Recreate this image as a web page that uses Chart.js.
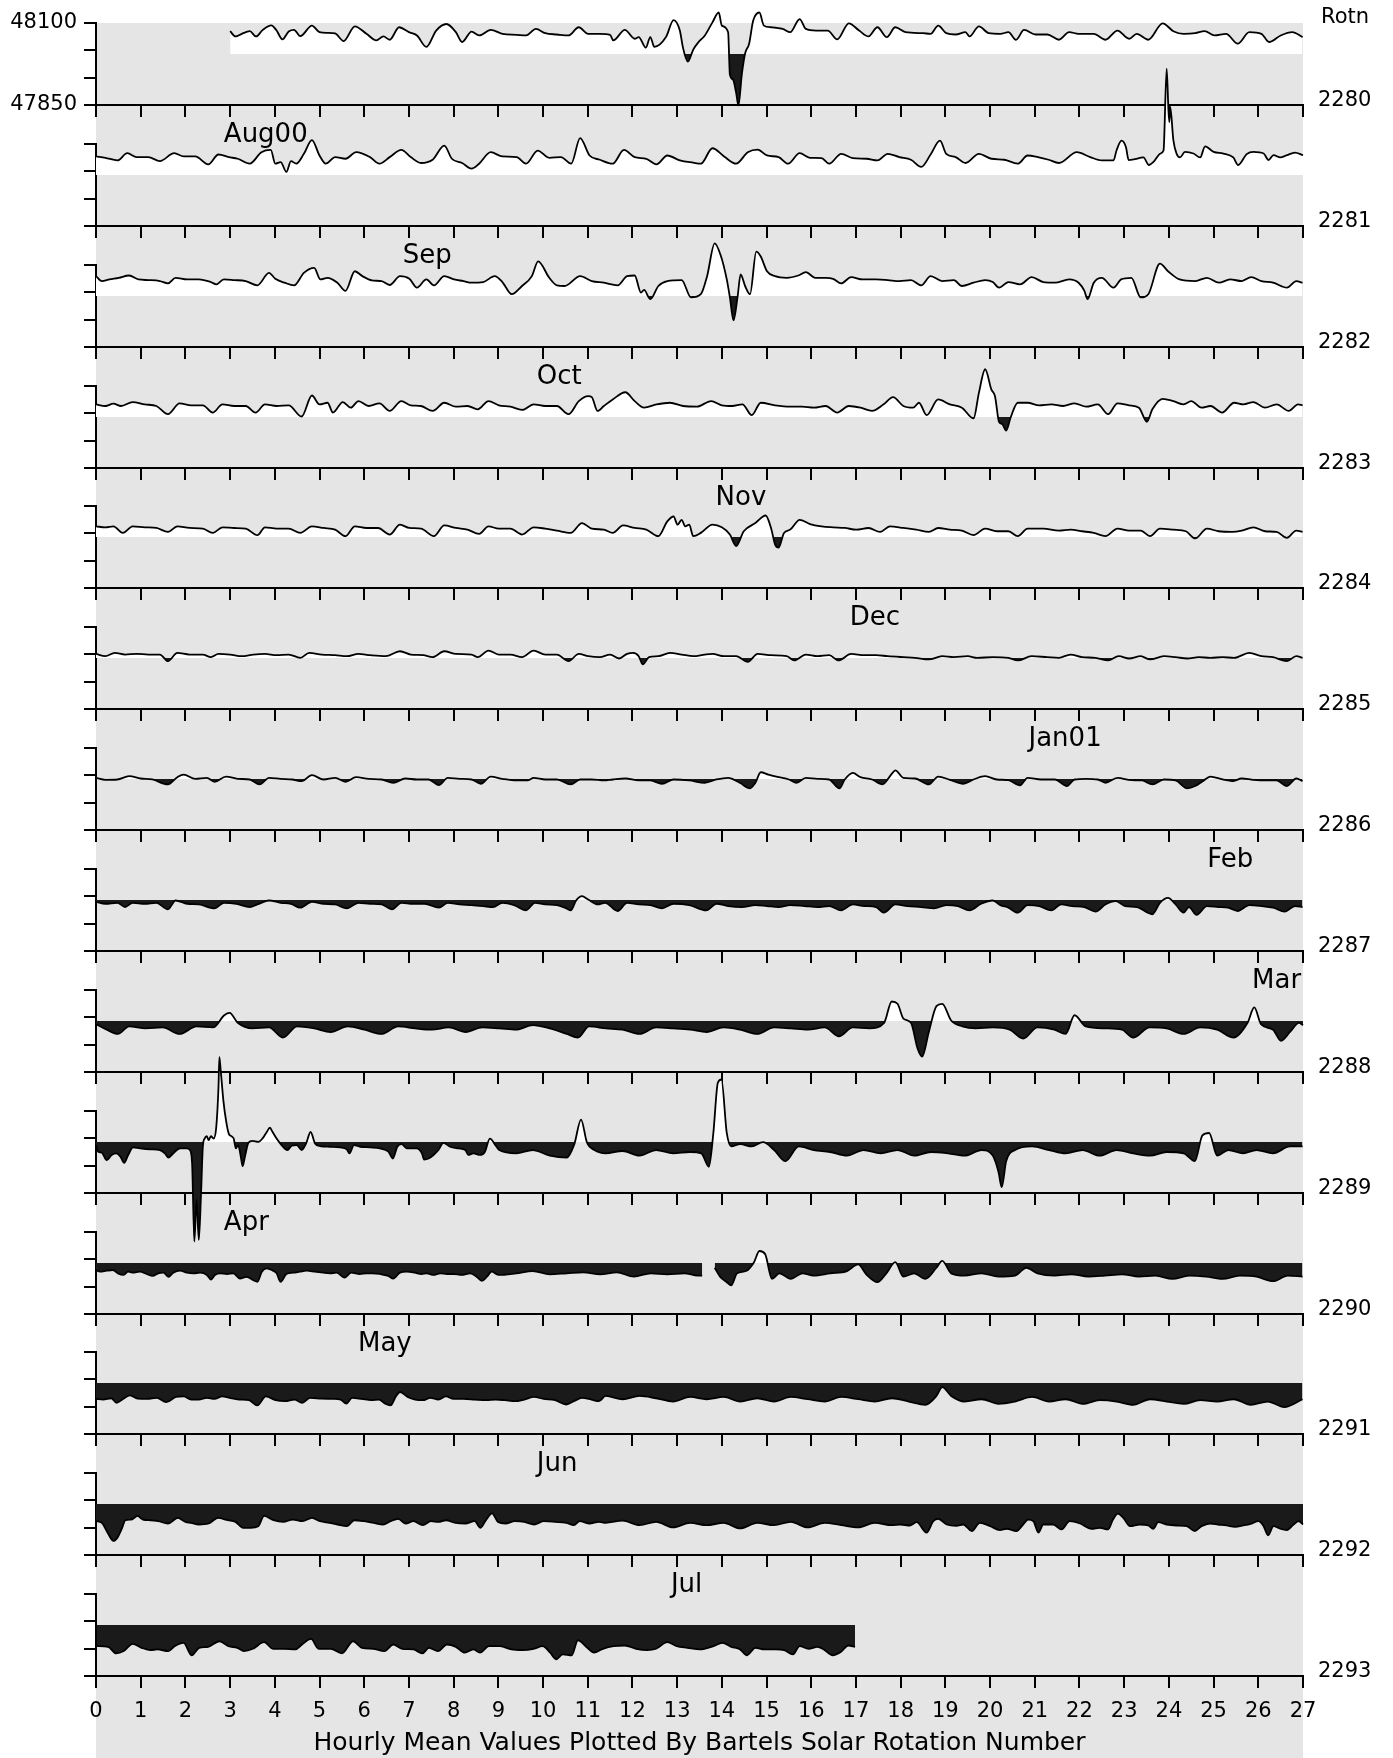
<!DOCTYPE html>
<html><head><meta charset="utf-8">
<script src="https://cdn.jsdelivr.net/npm/chart.js@4/dist/chart.umd.min.js"></script>
<style>
html,body{margin:0;padding:0;background:#fff;}
#page{position:relative;width:1393px;height:1758px;overflow:hidden;background:#fff;}
#bg{position:absolute;left:96px;top:23px;width:1207px;height:1735px;background:#e5e5e5;}
</style></head>
<body><div id="page"><div id="bg"></div></div>
<script>
// ---------------- DATA ----------------
const rotations = [2280,2281,2282,2283,2284,2285,2286,2287,2288,2289,2290,2291,2292,2293];
const monthNames = ['Aug00','Sep','Oct','Nov','Dec','Jan01','Feb','Mar','','Apr','May','Jun','Jul',''];
const monthDays  = [2.86,6.86,9.86,13.86,16.86,20.86,24.86,25.86,null,2.86,5.86,9.86,12.86,null];
const xTickValues = [0,1,2,3,4,5,6,7,8,9,10,11,12,13,14,15,16,17,18,19,20,21,22,23,24,25,26,27];
const yTickValues = [47850,47933.33,48016.67,48100];
const yTickLabels = ['47850','','','48100'];
const BASELINE = 48005.5;
const xTitle = 'Hourly Mean Values Plotted By Bartels Solar Rotation Number';

const r2280 = [[3.00,48075],[3.12,48059],[3.26,48067],[3.44,48075],[3.58,48059],[3.73,48079],[3.92,48093],[4.04,48077],[4.17,48050],[4.31,48074],[4.43,48079],[4.57,48060],[4.83,48092],[5.00,48072],[5.18,48070],[5.35,48068],[5.54,48045],[5.79,48090],[6.05,48067],[6.27,48047],[6.43,48059],[6.57,48049],[6.78,48087],[7.00,48072],[7.18,48062],[7.39,48027],[7.61,48077],[7.84,48097],[8.05,48072],[8.19,48042],[8.40,48074],[8.57,48062],[8.83,48079],[9.09,48067],[9.41,48064],[9.62,48062],[9.84,48082],[10.05,48069],[10.31,48065],[10.57,48062],[10.80,48087],[11.01,48067],[11.27,48067],[11.50,48064],[11.57,48047],[11.83,48079],[12.05,48052],[12.14,48057],[12.30,48025],[12.40,48057],[12.49,48027],[12.75,48057],[12.92,48109],[13.06,48077],[13.13,48025],[13.24,47982],[13.36,48019],[13.48,48042],[13.62,48062],[13.79,48102],[13.93,48132],[14.00,48092],[14.14,48072],[14.18,47942],[14.25,47927],[14.32,47887],[14.37,47849],[14.45,47947],[14.52,48007],[14.61,48037],[14.70,48107],[14.84,48132],[14.94,48092],[15.10,48087],[15.36,48082],[15.53,48072],[15.74,48112],[15.88,48082],[16.11,48077],[16.37,48077],[16.58,48050],[16.84,48099],[17.07,48077],[17.28,48059],[17.48,48087],[17.69,48057],[17.88,48087],[18.11,48072],[18.50,48069],[18.67,48067],[18.84,48092],[19.02,48069],[19.23,48065],[19.45,48072],[19.54,48059],[19.75,48090],[19.97,48069],[20.23,48067],[20.41,48072],[20.58,48049],[20.76,48079],[21.02,48065],[21.28,48065],[21.54,48049],[21.77,48072],[21.98,48067],[22.32,48067],[22.58,48049],[22.85,48077],[23.11,48052],[23.28,48067],[23.54,48049],[23.86,48099],[24.10,48075],[24.33,48067],[24.59,48069],[24.80,48075],[25.02,48062],[25.28,48067],[25.54,48037],[25.80,48072],[26.07,48067],[26.24,48042],[26.50,48062],[26.76,48072],[26.99,48057]];

const r2281 = [[0.00,48062],[0.21,48058],[0.48,48050],[0.70,48072],[0.91,48060],[1.17,48060],[1.43,48048],[1.75,48072],[1.96,48062],[2.22,48062],[2.51,48038],[2.74,48068],[2.97,48060],[3.17,48055],[3.44,48040],[3.70,48075],[3.91,48082],[4.01,48040],[4.13,48045],[4.26,48015],[4.36,48048],[4.48,48040],[4.65,48070],[4.83,48112],[5.00,48065],[5.14,48040],[5.35,48060],[5.58,48055],[5.82,48075],[6.13,48060],[6.34,48040],[6.57,48060],[6.83,48082],[7.04,48060],[7.27,48042],[7.53,48052],[7.79,48095],[7.96,48055],[8.19,48042],[8.40,48025],[8.57,48040],[8.83,48075],[9.09,48062],[9.41,48060],[9.62,48040],[9.88,48080],[10.14,48058],[10.40,48060],[10.63,48040],[10.83,48118],[11.04,48065],[11.27,48052],[11.56,48040],[11.81,48082],[12.05,48060],[12.31,48055],[12.54,48038],[12.78,48065],[13.06,48050],[13.36,48043],[13.53,48040],[13.79,48087],[14.05,48062],[14.32,48040],[14.58,48075],[14.80,48083],[15.01,48065],[15.27,48060],[15.48,48040],[15.74,48072],[15.97,48058],[16.23,48057],[16.40,48040],[16.67,48070],[16.93,48057],[17.24,48055],[17.48,48050],[17.71,48070],[17.97,48060],[18.23,48052],[18.46,48030],[18.67,48068],[18.88,48110],[19.02,48070],[19.23,48060],[19.45,48042],[19.75,48070],[20.03,48055],[20.32,48052],[20.62,48040],[20.84,48065],[21.07,48060],[21.31,48052],[21.54,48042],[21.94,48075],[22.24,48060],[22.50,48050],[22.76,48050],[22.83,48081],[22.94,48110],[23.04,48090],[23.10,48051],[23.21,48053],[23.43,48059],[23.55,48036],[23.66,48046],[23.81,48071],[23.88,48080],[23.95,48330],[23.99,48203],[24.01,48167],[24.03,48213],[24.10,48112],[24.17,48071],[24.25,48059],[24.36,48076],[24.55,48071],[24.70,48059],[24.81,48093],[25.00,48076],[25.22,48071],[25.44,48059],[25.55,48036],[25.74,48069],[25.89,48076],[26.12,48071],[26.23,48051],[26.34,48066],[26.49,48059],[26.64,48066],[26.82,48074],[27.00,48066]];

const r2282 = [[0.00,48066],[0.13,48051],[0.30,48056],[0.51,48061],[0.74,48068],[0.95,48056],[1.17,48054],[1.43,48051],[1.61,48044],[1.78,48061],[2.04,48056],[2.30,48056],[2.57,48048],[2.69,48041],[2.86,48056],[3.09,48054],[3.35,48051],[3.61,48038],[3.87,48076],[4.01,48058],[4.22,48046],[4.43,48038],[4.65,48076],[4.88,48091],[5.02,48056],[5.18,48061],[5.40,48046],[5.58,48021],[5.79,48081],[5.96,48066],[6.17,48053],[6.39,48051],[6.57,48039],[6.80,48066],[7.01,48058],[7.18,48031],[7.39,48056],[7.56,48038],[7.79,48066],[8.01,48056],[8.22,48051],[8.40,48046],[8.66,48048],[8.92,48066],[9.09,48048],[9.30,48011],[9.53,48036],[9.75,48066],[9.89,48111],[10.14,48061],[10.31,48038],[10.48,48036],[10.83,48066],[11.09,48051],[11.36,48046],[11.67,48038],[11.88,48066],[12.05,48068],[12.19,48016],[12.26,48024],[12.40,47996],[12.58,48036],[12.78,48051],[13.10,48054],[13.31,48001],[13.53,48011],[13.67,48066],[13.84,48166],[13.97,48131],[14.11,48056],[14.18,48001],[14.26,47931],[14.35,48001],[14.42,48071],[14.52,48036],[14.63,48011],[14.77,48141],[14.87,48126],[15.01,48081],[15.19,48066],[15.45,48061],[15.71,48068],[15.88,48078],[16.09,48061],[16.32,48061],[16.49,48058],[16.67,48044],[16.89,48063],[17.15,48056],[17.45,48056],[17.71,48054],[17.97,48051],[18.23,48054],[18.46,48038],[18.67,48066],[18.93,48051],[19.19,48054],[19.37,48036],[19.63,48046],[19.89,48054],[20.06,48048],[20.20,48031],[20.41,48048],[20.67,48041],[20.93,48063],[21.19,48048],[21.45,48046],[21.77,48056],[21.98,48046],[22.11,48021],[22.18,47996],[22.32,48046],[22.50,48061],[22.76,48031],[22.93,48056],[23.16,48061],[23.37,48001],[23.54,48011],[23.80,48104],[23.98,48081],[24.24,48056],[24.59,48051],[24.85,48061],[25.12,48046],[25.37,48056],[25.63,48051],[25.84,48063],[26.07,48051],[26.33,48046],[26.64,48031],[26.85,48051],[26.99,48046]];

const r2283 = [[0.00,48044],[0.21,48039],[0.39,48046],[0.56,48039],[0.82,48051],[1.09,48044],[1.35,48039],[1.61,48014],[1.87,48047],[2.13,48041],[2.39,48041],[2.61,48019],[2.83,48044],[3.09,48039],[3.35,48039],[3.57,48019],[3.78,48044],[4.04,48039],[4.31,48041],[4.60,48007],[4.83,48071],[5.00,48044],[5.18,48049],[5.30,48019],[5.52,48051],[5.70,48034],[5.87,48054],[6.10,48039],[6.34,48047],[6.57,48024],[6.83,48054],[7.04,48041],[7.27,48039],[7.53,48024],[7.79,48049],[8.05,48037],[8.31,48039],[8.54,48029],[8.78,48054],[9.01,48041],[9.27,48037],[9.53,48027],[9.79,48044],[10.05,48039],[10.31,48039],[10.57,48014],[10.80,48054],[11.01,48069],[11.09,48066],[11.22,48024],[11.36,48039],[11.56,48059],[11.84,48081],[12.05,48054],[12.26,48034],[12.54,48044],[12.84,48049],[13.13,48039],[13.44,48037],[13.76,48054],[14.00,48041],[14.23,48039],[14.46,48044],[14.67,48011],[14.87,48049],[15.19,48041],[15.53,48037],[15.79,48037],[16.06,48034],[16.32,48039],[16.58,48019],[16.84,48039],[17.10,48034],[17.36,48024],[17.62,48044],[17.83,48066],[18.06,48039],[18.28,48034],[18.41,48049],[18.58,48011],[18.84,48059],[19.10,48044],[19.37,48034],[19.63,48001],[19.75,48079],[19.89,48151],[20.03,48089],[20.11,48069],[20.20,47991],[20.27,47984],[20.36,47964],[20.46,48004],[20.62,48049],[20.84,48049],[21.10,48041],[21.37,48044],[21.63,48039],[21.89,48047],[22.15,48037],[22.41,48044],[22.64,48014],[22.85,48047],[23.11,48041],[23.33,48034],[23.51,47991],[23.63,48029],[23.86,48061],[24.10,48054],[24.33,48044],[24.50,48054],[24.73,48034],[24.93,48039],[25.19,48019],[25.46,48049],[25.67,48044],[25.89,48051],[26.15,48034],[26.41,48044],[26.68,48024],[26.89,48044],[26.99,48041]];

const r2284 = [[0.00,48038],[0.21,48035],[0.39,48038],[0.60,48018],[0.82,48038],[1.09,48035],[1.35,48033],[1.61,48021],[1.82,48038],[2.09,48033],[2.39,48031],[2.61,48018],[2.83,48035],[3.09,48033],[3.35,48031],[3.61,48011],[3.78,48035],[4.04,48031],[4.31,48031],[4.57,48018],[4.83,48038],[5.09,48033],[5.35,48028],[5.58,48008],[5.79,48038],[6.05,48033],[6.31,48033],[6.57,48013],[6.80,48043],[7.01,48033],[7.27,48031],[7.56,48008],[7.79,48041],[8.05,48033],[8.31,48028],[8.57,48015],[8.78,48038],[9.01,48031],[9.27,48031],[9.53,48013],[9.79,48035],[10.05,48031],[10.31,48025],[10.62,48018],[10.87,48048],[11.09,48031],[11.36,48028],[11.56,48018],[11.79,48041],[12.05,48033],[12.31,48028],[12.58,48008],[12.78,48053],[12.92,48068],[13.01,48043],[13.10,48058],[13.18,48038],[13.27,48043],[13.36,48008],[13.53,48018],[13.79,48043],[14.00,48035],[14.18,48013],[14.32,47978],[14.49,48023],[14.75,48048],[14.98,48071],[15.10,48033],[15.19,47983],[15.27,47973],[15.39,48018],[15.53,48028],[15.74,48058],[15.97,48045],[16.23,48038],[16.49,48035],[16.75,48033],[17.01,48028],[17.28,48033],[17.54,48021],[17.76,48038],[18.06,48033],[18.35,48028],[18.63,48021],[18.84,48033],[19.10,48028],[19.37,48025],[19.63,48011],[19.89,48031],[20.15,48023],[20.41,48023],[20.62,48008],[20.84,48031],[21.19,48031],[21.54,48025],[21.80,48028],[22.06,48023],[22.32,48018],[22.58,48008],[22.85,48031],[23.11,48025],[23.37,48025],[23.58,48008],[23.80,48031],[24.10,48028],[24.38,48023],[24.59,48001],[24.85,48031],[25.11,48023],[25.42,48021],[25.63,48025],[25.89,48035],[26.15,48023],[26.41,48021],[26.64,48003],[26.85,48025],[26.99,48021]];

const r2285 = [[0.00,48018],[0.21,48011],[0.42,48021],[0.65,48016],[0.91,48018],[1.17,48016],[1.43,48016],[1.61,47996],[1.82,48021],[2.09,48016],[2.39,48016],[2.57,48008],[2.74,48018],[3.00,48016],[3.26,48011],[3.52,48016],[3.78,48018],[4.04,48014],[4.31,48016],[4.57,48006],[4.77,48021],[5.05,48016],[5.35,48014],[5.61,48011],[5.87,48018],[6.13,48014],[6.48,48011],[6.80,48026],[7.04,48016],[7.32,48014],[7.53,48008],[7.79,48026],[8.05,48018],[8.40,48016],[8.54,48008],[8.78,48028],[9.01,48016],[9.27,48016],[9.53,48008],[9.79,48028],[10.05,48016],[10.31,48016],[10.57,47996],[10.80,48018],[11.01,48011],[11.27,48008],[11.50,48016],[11.70,48004],[11.88,48018],[12.02,48021],[12.14,48011],[12.23,47986],[12.37,48008],[12.58,48011],[12.84,48021],[13.10,48016],[13.36,48011],[13.62,48016],[13.79,48018],[14.05,48011],[14.32,48011],[14.58,47994],[14.80,48018],[15.10,48014],[15.45,48011],[15.62,47998],[15.88,48016],[16.14,48011],[16.40,48014],[16.61,47998],[16.89,48018],[17.19,48014],[17.45,48014],[17.71,48011],[18.06,48008],[18.32,48006],[18.63,48001],[18.93,48011],[19.19,48008],[19.50,48011],[19.71,48006],[20.06,48008],[20.41,48006],[20.62,47998],[20.93,48011],[21.28,48008],[21.54,48006],[21.80,48016],[22.06,48008],[22.36,48006],[22.64,47998],[22.88,48011],[23.11,48004],[23.37,48011],[23.58,48001],[23.89,48011],[24.15,48008],[24.41,48004],[24.67,48008],[24.93,48006],[25.20,48008],[25.46,48006],[25.80,48021],[26.07,48011],[26.33,48008],[26.64,47996],[26.85,48011],[26.99,48006]];

const r2286 = [[0.00,48009],[0.21,48003],[0.48,48004],[0.74,48014],[1.00,48007],[1.26,48004],[1.61,47989],[1.82,48011],[1.96,48019],[2.22,48006],[2.48,48009],[2.65,47997],[2.91,48013],[3.17,48006],[3.44,48004],[3.66,47989],[3.87,48009],[4.13,48006],[4.39,48004],[4.60,47999],[4.83,48017],[5.09,48004],[5.35,48009],[5.58,47997],[5.82,48011],[6.10,48006],[6.39,48004],[6.65,47994],[6.92,48007],[7.18,48004],[7.44,48004],[7.67,47987],[7.87,48009],[8.13,48006],[8.40,48004],[8.61,47991],[8.83,48013],[9.09,48006],[9.41,48001],[9.65,48001],[9.79,48009],[10.05,48004],[10.31,48004],[10.62,47989],[10.83,48004],[11.09,48004],[11.36,48001],[11.56,48004],[11.84,48007],[12.14,48001],[12.40,48001],[12.66,47991],[12.92,48004],[13.27,48001],[13.62,47994],[13.88,48004],[14.14,48009],[14.40,47994],[14.63,47977],[14.75,47994],[14.87,48026],[15.04,48019],[15.27,48011],[15.50,48004],[15.67,47994],[15.88,48009],[16.14,48006],[16.40,48004],[16.63,47977],[16.75,48004],[16.93,48024],[17.10,48011],[17.36,48004],[17.59,47989],[17.80,48021],[17.88,48032],[18.06,48009],[18.32,48007],[18.63,47989],[18.84,48013],[19.10,48003],[19.40,47991],[19.63,48004],[19.89,48014],[20.15,48004],[20.41,48002],[20.67,47986],[20.84,48009],[21.14,48004],[21.45,48004],[21.72,47984],[21.89,48004],[22.15,48006],[22.41,48004],[22.58,47994],[22.85,48009],[23.16,48002],[23.40,48001],[23.63,47989],[23.89,48004],[24.15,48001],[24.41,47977],[24.59,47984],[24.76,47999],[24.93,48013],[25.20,48004],[25.42,47999],[25.63,48007],[25.89,48003],[26.15,48001],[26.41,48001],[26.64,47984],[26.85,48007],[26.99,47999]];

const r2287 = [[0.00,48000],[0.21,47994],[0.48,47997],[0.65,47984],[0.82,47997],[1.09,47994],[1.35,47997],[1.61,47977],[1.78,48004],[2.04,47994],[2.30,47992],[2.65,47980],[2.86,47997],[3.14,47994],[3.44,47984],[3.61,47992],[3.87,48004],[4.13,47997],[4.36,47994],[4.57,47982],[4.83,48000],[5.09,47994],[5.35,47992],[5.61,47980],[5.87,47997],[6.13,47994],[6.39,47992],[6.62,47977],[6.83,47997],[7.09,47994],[7.35,47994],[7.67,47982],[7.87,47997],[8.13,47992],[8.40,47990],[8.66,47987],[8.88,47984],[9.09,47997],[9.35,47990],[9.62,47974],[9.82,47997],[10.05,47992],[10.31,47990],[10.52,47980],[10.62,47974],[10.74,48004],[10.87,48017],[11.01,48007],[11.22,47992],[11.39,47997],[11.67,47972],[11.88,47997],[12.14,47992],[12.40,47990],[12.66,47980],[12.92,47994],[13.27,47990],[13.65,47974],[13.88,47994],[14.14,47987],[14.45,47984],[14.75,47990],[15.01,47987],[15.27,47984],[15.53,47990],[15.85,47987],[16.14,47984],[16.40,47987],[16.67,47974],[16.93,47992],[17.19,47987],[17.45,47984],[17.62,47967],[17.88,47992],[18.15,47987],[18.46,47984],[18.75,47980],[19.02,47990],[19.28,47987],[19.54,47974],[19.80,47994],[20.06,48004],[20.23,47990],[20.41,47982],[20.62,47967],[20.84,47990],[21.10,47987],[21.37,47974],[21.59,47992],[21.84,47987],[22.11,47984],[22.36,47970],[22.58,47992],[22.81,48002],[23.02,47987],[23.28,47984],[23.63,47962],[23.80,47997],[23.98,48012],[24.15,47992],[24.33,47967],[24.45,47984],[24.62,47960],[24.85,47987],[25.11,47984],[25.32,47982],[25.54,47972],[25.80,47990],[26.07,47987],[26.33,47982],[26.59,47970],[26.82,47987],[26.99,47984]];

const r2288 = [[0.00,47996],[0.24,47979],[0.49,47966],[0.74,47989],[1.11,47983],[1.49,47986],[1.87,47966],[2.25,47989],[2.62,47986],[2.87,48023],[2.99,48030],[3.17,48000],[3.50,47983],[3.87,47986],[4.18,47955],[4.50,47989],[4.88,47983],[5.25,47972],[5.63,47989],[6.01,47979],[6.38,47966],[6.76,47989],[7.14,47983],[7.51,47979],[7.89,47986],[8.27,47972],[8.64,47986],[9.02,47983],[9.40,47979],[9.77,47993],[10.15,47983],[10.53,47966],[10.78,47955],[11.03,47989],[11.40,47983],[11.78,47979],[12.16,47966],[12.53,47986],[12.91,47983],[13.29,47979],[13.66,47972],[14.04,47986],[14.41,47979],[14.79,47966],[15.17,47986],[15.54,47983],[15.92,47979],[16.30,47986],[16.62,47959],[16.93,47986],[17.30,47983],[17.63,48000],[17.80,48065],[17.93,48058],[18.06,48013],[18.23,48000],[18.38,47921],[18.48,47897],[18.63,47972],[18.80,48051],[18.93,48058],[19.13,48007],[19.38,47989],[19.68,47983],[20.06,47986],[20.44,47979],[20.74,47952],[21.06,47986],[21.44,47979],[21.69,47966],[21.89,48023],[22.14,47989],[22.57,47983],[22.95,47979],[23.20,47955],[23.57,47986],[23.95,47983],[24.33,47966],[24.70,47986],[25.08,47979],[25.45,47955],[25.76,48000],[25.91,48047],[26.06,47996],[26.33,47979],[26.51,47945],[26.71,47972],[26.91,48000],[27.00,47993]];

const r2289 = [[0.00,47996],[0.05,47976],[0.13,47973],[0.24,47950],[0.35,47966],[0.46,47971],[0.55,47960],[0.63,47942],[0.72,47966],[0.83,47989],[0.98,47986],[1.21,47983],[1.43,47981],[1.54,47971],[1.62,47958],[1.73,47971],[1.88,47986],[2.03,47986],[2.10,47981],[2.15,47940],[2.20,47702],[2.25,47829],[2.30,47707],[2.35,47849],[2.39,47991],[2.43,48016],[2.48,48023],[2.52,48011],[2.57,48023],[2.63,48016],[2.69,48051],[2.74,48173],[2.76,48264],[2.79,48223],[2.85,48131],[2.91,48070],[2.97,48031],[3.03,48023],[3.08,48016],[3.13,47986],[3.18,47996],[3.24,47960],[3.28,47932],[3.33,47960],[3.41,48003],[3.50,48009],[3.63,48006],[3.74,48019],[3.82,48036],[3.89,48049],[3.95,48036],[4.04,48016],[4.15,47996],[4.28,47981],[4.38,47994],[4.49,47996],[4.60,47981],[4.70,48001],[4.80,48036],[4.90,48001],[5.01,47993],[5.23,47991],[5.46,47989],[5.61,47983],[5.67,47971],[5.77,47996],[5.91,47991],[6.13,47989],[6.35,47986],[6.54,47976],[6.64,47955],[6.74,47991],[6.84,47999],[6.95,47986],[7.17,47986],[7.29,47971],[7.34,47952],[7.44,47955],[7.55,47966],[7.66,47981],[7.77,48003],[7.92,47991],[8.11,47986],[8.26,47981],[8.33,47966],[8.44,47971],[8.59,47966],[8.70,47976],[8.81,48016],[8.96,47991],[9.02,47981],[9.40,47971],[9.77,47981],[10.15,47964],[10.53,47958],[10.70,47999],[10.85,48074],[10.98,48005],[11.15,47981],[11.40,47971],[11.78,47978],[12.16,47964],[12.53,47981],[12.91,47971],[13.29,47975],[13.54,47971],[13.71,47930],[13.81,48033],[13.91,48186],[13.99,48196],[14.11,48033],[14.21,47992],[14.41,47999],[14.67,47992],[14.92,48005],[15.17,47981],[15.42,47947],[15.72,47992],[16.05,47981],[16.42,47975],[16.80,47964],[17.17,47981],[17.55,47971],[17.93,47981],[18.30,47964],[18.68,47975],[19.06,47971],[19.43,47964],[19.81,47981],[20.06,47964],[20.19,47913],[20.26,47868],[20.36,47947],[20.56,47981],[20.94,47992],[21.32,47981],[21.69,47971],[22.07,47981],[22.45,47964],[22.83,47981],[23.20,47971],[23.58,47964],[23.95,47975],[24.33,47971],[24.58,47947],[24.75,48026],[24.90,48033],[25.08,47964],[25.33,47981],[25.66,47971],[25.96,47981],[26.33,47971],[26.71,47992],[26.99,47992]];

const r2290 = [[0.00,47984],[0.09,47979],[0.24,47982],[0.38,47984],[0.49,47974],[0.61,47969],[0.72,47979],[0.83,47976],[0.98,47979],[1.13,47972],[1.27,47966],[1.39,47974],[1.51,47976],[1.62,47963],[1.73,47976],[1.88,47982],[2.03,47976],[2.18,47974],[2.33,47976],[2.48,47969],[2.57,47955],[2.66,47969],[2.78,47974],[2.93,47972],[3.07,47974],[3.22,47958],[3.37,47963],[3.52,47953],[3.61,47948],[3.71,47979],[3.82,47989],[3.93,47984],[4.04,47974],[4.13,47948],[4.26,47972],[4.41,47976],[4.56,47979],[4.71,47982],[4.90,47979],[5.08,47976],[5.23,47974],[5.38,47976],[5.56,47961],[5.71,47976],[5.90,47972],[6.05,47974],[6.19,47974],[6.35,47972],[6.54,47966],[6.65,47958],[6.80,47976],[6.95,47979],[7.13,47976],[7.28,47972],[7.40,47974],[7.55,47969],[7.70,47974],[7.85,47972],[8.00,47972],[8.18,47969],[8.37,47974],[8.52,47963],[8.63,47951],[8.74,47963],[8.85,47979],[9.00,47969],[9.40,47974],[9.77,47981],[10.15,47971],[10.53,47974],[10.90,47977],[11.28,47971],[11.65,47977],[12.03,47964],[12.41,47974],[12.78,47971],[13.16,47974],[13.46,47967],[13.56,47967],[13.70,null],[13.84,47991],[13.96,47964],[14.11,47947],[14.21,47937],[14.34,47974],[14.54,47981],[14.72,48008],[14.84,48042],[14.97,48032],[15.12,47957],[15.29,47974],[15.54,47957],[15.80,47974],[16.05,47967],[16.42,47974],[16.80,47981],[17.05,48001],[17.23,47971],[17.48,47947],[17.68,47974],[17.88,48008],[18.06,47964],[18.30,47974],[18.55,47957],[18.80,47991],[18.93,48012],[19.13,47974],[19.43,47967],[19.81,47974],[20.19,47964],[20.56,47967],[20.81,47991],[21.06,47974],[21.44,47967],[21.82,47971],[22.20,47964],[22.57,47967],[22.95,47971],[23.33,47964],[23.70,47967],[24.08,47957],[24.45,47967],[24.83,47964],[25.20,47957],[25.58,47967],[25.96,47964],[26.33,47950],[26.66,47967],[26.99,47964]];

const r2291 = [[0.00,47957],[0.16,47955],[0.34,47959],[0.46,47945],[0.59,47955],[0.76,47968],[0.93,47958],[1.15,47957],[1.36,47960],[1.57,47947],[1.79,47963],[1.96,47965],[2.13,47955],[2.30,47955],[2.48,47960],[2.65,47957],[2.82,47965],[2.99,47960],[3.20,47955],[3.42,47953],[3.61,47937],[3.80,47965],[4.02,47953],[4.23,47950],[4.44,47955],[4.61,47945],[4.79,47960],[5.04,47958],[5.30,47957],[5.47,47955],[5.60,47943],[5.73,47960],[5.94,47957],[6.16,47953],[6.33,47955],[6.46,47943],[6.59,47937],[6.71,47965],[6.80,47978],[6.97,47963],[7.14,47955],[7.31,47953],[7.48,47960],[7.66,47955],[7.83,47965],[8.00,47957],[8.21,47957],[8.47,47955],[8.73,47953],[8.94,47955],[9.15,47953],[9.37,47950],[9.58,47955],[9.80,47963],[10.01,47957],[10.27,47953],[10.52,47940],[10.69,47950],[10.87,47960],[11.08,47955],[11.25,47950],[11.40,47966],[11.78,47956],[12.16,47966],[12.53,47959],[12.91,47949],[13.29,47963],[13.66,47956],[14.04,47963],[14.41,47949],[14.79,47959],[15.17,47949],[15.54,47963],[15.92,47956],[16.30,47949],[16.67,47963],[17.05,47956],[17.42,47949],[17.80,47959],[18.18,47949],[18.55,47939],[18.80,47966],[18.93,47993],[19.13,47966],[19.43,47949],[19.81,47956],[20.19,47942],[20.56,47949],[20.94,47963],[21.32,47949],[21.69,47956],[22.07,47942],[22.45,47953],[22.83,47949],[23.20,47939],[23.58,47956],[23.95,47949],[24.33,47942],[24.70,47953],[25.08,47949],[25.45,47956],[25.83,47939],[26.21,47949],[26.58,47932],[26.99,47956]];

const r2292 = [[0.00,47953],[0.13,47948],[0.26,47918],[0.39,47893],[0.48,47903],[0.57,47928],[0.66,47956],[0.79,47958],[0.93,47969],[1.05,47958],[1.22,47956],[1.39,47953],[1.61,47946],[1.83,47963],[2.00,47951],[2.13,47948],[2.30,47943],[2.52,47946],[2.73,47963],[2.95,47956],[3.12,47951],[3.29,47933],[3.46,47933],[3.63,47938],[3.76,47969],[3.97,47956],[4.19,47951],[4.40,47958],[4.62,47953],[4.83,47963],[5.01,47953],[5.22,47948],[5.40,47943],[5.61,47938],[5.78,47956],[6.00,47953],[6.21,47948],[6.42,47943],[6.59,47953],[6.76,47960],[6.93,47946],[7.10,47953],[7.31,47941],[7.49,47953],[7.66,47951],[7.83,47956],[8.04,47948],[8.26,47946],[8.47,47953],[8.60,47933],[8.73,47958],[8.86,47977],[8.99,47951],[9.16,47946],[9.37,47953],[9.58,47951],[9.80,47943],[10.01,47953],[10.27,47951],[10.52,47948],[10.69,47941],[10.82,47953],[11.04,47946],[11.25,47951],[11.40,47948],[11.78,47955],[12.16,47941],[12.53,47951],[12.91,47934],[13.29,47948],[13.66,47941],[14.04,47948],[14.41,47931],[14.79,47948],[15.17,47941],[15.54,47951],[15.92,47934],[16.30,47948],[16.67,47941],[17.05,47934],[17.42,47948],[17.80,47941],[17.99,47943],[18.21,47940],[18.36,47950],[18.58,47918],[18.73,47953],[18.84,47960],[19.03,47943],[19.25,47939],[19.40,47943],[19.59,47923],[19.77,47948],[20.00,47938],[20.22,47926],[20.37,47930],[20.59,47923],[20.74,47943],[20.85,47958],[20.97,47953],[21.08,47918],[21.19,47943],[21.41,47943],[21.60,47928],[21.78,47953],[22.01,47946],[22.27,47930],[22.45,47933],[22.64,47928],[22.75,47958],[22.86,47976],[22.98,47963],[23.13,47938],[23.35,47943],[23.54,47940],[23.65,47930],[23.76,47950],[23.95,47943],[24.17,47940],[24.40,47938],[24.58,47923],[24.73,47938],[24.92,47946],[25.10,47943],[25.29,47940],[25.48,47936],[25.66,47940],[25.85,47946],[26.00,47953],[26.11,47940],[26.22,47910],[26.34,47938],[26.49,47930],[26.64,47926],[26.79,47943],[26.90,47953],[27.00,47943]];

const r2293 = [[0.02,47941],[0.27,47939],[0.45,47919],[0.62,47926],[0.82,47948],[1.02,47936],[1.22,47929],[1.37,47931],[1.62,47926],[1.76,47941],[1.96,47951],[2.14,47913],[2.31,47936],[2.51,47939],[2.76,47956],[2.96,47941],[3.16,47936],[3.31,47926],[3.51,47933],[3.76,47953],[3.96,47933],[4.21,47933],[4.46,47931],[4.61,47946],[4.81,47963],[4.98,47933],[5.25,47933],[5.50,47919],[5.75,47956],[5.95,47936],[6.20,47933],[6.45,47926],[6.65,47946],[6.85,47933],[7.10,47931],[7.30,47919],[7.45,47936],[7.65,47926],[7.85,47946],[8.05,47939],[8.25,47921],[8.44,47931],[8.59,47921],[8.79,47941],[9.04,47941],[9.29,47931],[9.54,47929],[9.79,47933],[9.99,47941],[10.16,47921],[10.29,47901],[10.44,47916],[10.64,47913],[10.78,47959],[10.99,47936],[11.14,47921],[11.34,47933],[11.58,47941],[11.83,47943],[12.08,47933],[12.33,47929],[12.53,47933],[12.78,47953],[12.99,47941],[13.23,47936],[13.51,47931],[13.81,47941],[14.01,47951],[14.21,47939],[14.41,47931],[14.56,47913],[14.75,47936],[14.95,47931],[15.20,47931],[15.39,47929],[15.59,47916],[15.74,47941],[15.94,47933],[16.14,47939],[16.28,47931],[16.48,47913],[16.66,47923],[16.83,47943],[16.98,47939]];

const series = [r2280,r2281,r2282,r2283,r2284,r2285,r2286,r2287,r2288,r2289,r2290,r2291,r2292,r2293];

// ---------------- DRAWING ----------------
Chart.defaults.font.family = '"DejaVu Sans", "Liberation Sans", sans-serif';
Chart.defaults.color = '#000';

const panelText = {
  id: 'panelText',
  beforeDatasetsDraw(chart) {
    const a = chart.chartArea;
    chart.$saved = [a.top, a.bottom];
    a.top = 0; a.bottom = chart.height;
  },
  afterDatasetsDraw(chart) {
    const a = chart.chartArea;
    [a.top, a.bottom] = chart.$saved;
  },
  afterDraw(chart, args, opts) {
    const k = opts.k, ctx = chart.ctx, a = chart.chartArea, xs = chart.scales.x;
    ctx.save();
    ctx.fillStyle = '#000';
    ctx.textBaseline = 'alphabetic';
    ctx.textAlign = 'left';
    ctx.font = '21px "DejaVu Sans"';
    ctx.fillText(String(rotations[k]), xs.right + 15, a.bottom + 1);
    if (k === 0) ctx.fillText('Rotn', xs.right + 18, a.top);
    if (monthNames[k]) {
      ctx.font = '26px "DejaVu Sans"';
      ctx.fillText(monthNames[k], xs.getPixelForValue(monthDays[k]), a.bottom + 36.5);
    }
    ctx.restore();
  }
};

const PAD_TOP = 140;
const PANEL_H = 82;
const page = document.getElementById('page');
const axisGrid = {drawOnChartArea:false, drawTicks:true, tickLength:12, color:'#000', lineWidth:2};
const axisBorder = {display:true, color:'#000', width:2};

series.forEach((pts, k) => {
  const top = Math.round(23 + 120.85 * k);
  const bot = top + PANEL_H;
  const last = k === series.length - 1;
  const xH = last ? 1758 - bot : 20;
  const padB = last ? 0 : 80;
  const H = PAD_TOP + PANEL_H + xH + padB;
  const cv = document.createElement('canvas');
  cv.width = 1393; cv.height = H;
  cv.style.cssText = 'position:absolute;left:0;top:' + (top - PAD_TOP) + 'px;width:1393px;height:' + H + 'px;';
  page.appendChild(cv);
  new Chart(cv, {
    type: 'line',
    data: { datasets: [{
      data: pts.map(p => ({x: p[0], y: p[1]})),
      borderColor: '#000', borderWidth: 1.8, pointRadius: 0,
      cubicInterpolationMode: 'monotone',
      borderJoinStyle: 'round', clip: false, spanGaps: false,
      fill: {target: {value: BASELINE}, above: '#ffffff', below: '#1a1a1a'}
    }]},
    options: {
      responsive: false, animation: false, devicePixelRatio: 1,
      layout: {padding: {top: PAD_TOP, left: 0, right: 90, bottom: padB}},
      plugins: {legend: {display: false}, tooltip: {enabled: false}, panelText: {k: k}},
      scales: {
        x: {
          type: 'linear', min: 0, max: 27,
          afterFit: s => { s.height = xH; },
          afterBuildTicks: s => { s.ticks = xTickValues.map(v => ({value: v})); },
          ticks: {display: last, autoSkip: false, maxRotation: 0, font: {size: 21}, padding: 11, color: '#000'},
          grid: axisGrid, border: axisBorder,
          title: {display: last, text: xTitle, font: {size: 25}, color: '#000', padding: {top: 0, bottom: 0}}
        },
        y: {
          type: 'linear', min: 47850, max: 48100,
          afterFit: s => { s.width = 96; },
          afterBuildTicks: s => { s.ticks = yTickValues.map(v => ({value: v})); },
          ticks: {display: k === 0, autoSkip: false, font: {size: 21}, padding: 7, color: '#000',
                  callback: (v, i) => yTickLabels[i]},
          grid: axisGrid, border: axisBorder
        }
      }
    },
    plugins: [panelText]
  });
});
</script>
</body></html>
